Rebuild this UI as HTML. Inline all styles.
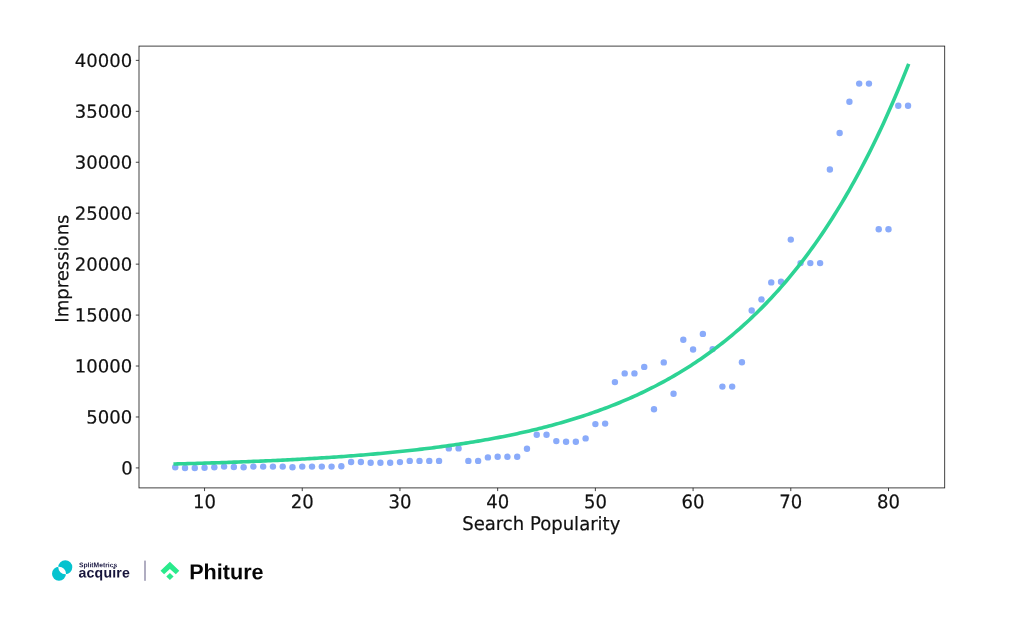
<!DOCTYPE html>
<html lang="en"><head><meta charset="utf-8"><title>Impressions vs Search Popularity</title>
<style>
html,body{margin:0;padding:0;background:#fff;}
body{width:1024px;height:625px;overflow:hidden;position:relative;}
svg{position:absolute;left:0;top:0;display:block;}
.t{font-family:"DejaVu Sans", "Liberation Sans", sans-serif;font-size:18.05px;fill:#111;stroke:#111;stroke-width:0.2px;}
.brand{font-family:"Liberation Sans", sans-serif;font-weight:bold;}
</style></head><body>
<svg width="1024" height="625" viewBox="0 0 1024 625">
<rect width="1024" height="625" fill="#fff"/>
<g fill="#8aabfa">
<circle cx="175.24" cy="467.30" r="3.2"/>
<circle cx="185.01" cy="467.96" r="3.2"/>
<circle cx="194.78" cy="467.96" r="3.2"/>
<circle cx="204.55" cy="467.80" r="3.2"/>
<circle cx="214.32" cy="467.20" r="3.2"/>
<circle cx="224.09" cy="466.60" r="3.2"/>
<circle cx="233.86" cy="467.00" r="3.2"/>
<circle cx="243.63" cy="467.20" r="3.2"/>
<circle cx="253.40" cy="466.60" r="3.2"/>
<circle cx="263.17" cy="466.60" r="3.2"/>
<circle cx="272.94" cy="466.60" r="3.2"/>
<circle cx="282.72" cy="466.60" r="3.2"/>
<circle cx="292.49" cy="467.20" r="3.2"/>
<circle cx="302.26" cy="466.60" r="3.2"/>
<circle cx="312.03" cy="466.60" r="3.2"/>
<circle cx="321.80" cy="466.60" r="3.2"/>
<circle cx="331.57" cy="466.60" r="3.2"/>
<circle cx="341.34" cy="466.25" r="3.2"/>
<circle cx="351.11" cy="462.00" r="3.2"/>
<circle cx="360.88" cy="462.00" r="3.2"/>
<circle cx="370.65" cy="462.70" r="3.2"/>
<circle cx="380.42" cy="462.70" r="3.2"/>
<circle cx="390.19" cy="462.70" r="3.2"/>
<circle cx="399.96" cy="462.10" r="3.2"/>
<circle cx="409.73" cy="460.90" r="3.2"/>
<circle cx="419.51" cy="460.90" r="3.2"/>
<circle cx="429.28" cy="460.90" r="3.2"/>
<circle cx="439.05" cy="460.90" r="3.2"/>
<circle cx="448.82" cy="448.40" r="3.2"/>
<circle cx="458.59" cy="448.40" r="3.2"/>
<circle cx="468.36" cy="460.90" r="3.2"/>
<circle cx="478.13" cy="460.90" r="3.2"/>
<circle cx="487.90" cy="457.40" r="3.2"/>
<circle cx="497.67" cy="456.80" r="3.2"/>
<circle cx="507.44" cy="456.80" r="3.2"/>
<circle cx="517.21" cy="456.80" r="3.2"/>
<circle cx="526.98" cy="448.80" r="3.2"/>
<circle cx="536.75" cy="434.80" r="3.2"/>
<circle cx="546.52" cy="434.80" r="3.2"/>
<circle cx="556.30" cy="441.10" r="3.2"/>
<circle cx="566.07" cy="441.70" r="3.2"/>
<circle cx="575.84" cy="441.70" r="3.2"/>
<circle cx="585.61" cy="438.40" r="3.2"/>
<circle cx="595.38" cy="424.10" r="3.2"/>
<circle cx="605.15" cy="423.60" r="3.2"/>
<circle cx="614.92" cy="382.10" r="3.2"/>
<circle cx="624.69" cy="373.40" r="3.2"/>
<circle cx="634.46" cy="373.40" r="3.2"/>
<circle cx="644.23" cy="366.90" r="3.2"/>
<circle cx="654.00" cy="409.30" r="3.2"/>
<circle cx="663.77" cy="362.40" r="3.2"/>
<circle cx="673.54" cy="393.70" r="3.2"/>
<circle cx="683.31" cy="339.80" r="3.2"/>
<circle cx="693.09" cy="349.50" r="3.2"/>
<circle cx="702.86" cy="333.90" r="3.2"/>
<circle cx="712.63" cy="349.10" r="3.2"/>
<circle cx="722.40" cy="386.60" r="3.2"/>
<circle cx="732.17" cy="386.60" r="3.2"/>
<circle cx="741.94" cy="362.30" r="3.2"/>
<circle cx="751.71" cy="310.50" r="3.2"/>
<circle cx="761.48" cy="299.40" r="3.2"/>
<circle cx="771.25" cy="282.40" r="3.2"/>
<circle cx="781.02" cy="281.80" r="3.2"/>
<circle cx="790.79" cy="239.60" r="3.2"/>
<circle cx="800.56" cy="263.10" r="3.2"/>
<circle cx="810.33" cy="263.10" r="3.2"/>
<circle cx="820.10" cy="263.10" r="3.2"/>
<circle cx="829.87" cy="169.50" r="3.2"/>
<circle cx="839.65" cy="133.00" r="3.2"/>
<circle cx="849.42" cy="101.70" r="3.2"/>
<circle cx="859.19" cy="83.60" r="3.2"/>
<circle cx="868.96" cy="83.60" r="3.2"/>
<circle cx="878.73" cy="229.30" r="3.2"/>
<circle cx="888.50" cy="229.30" r="3.2"/>
<circle cx="898.27" cy="105.80" r="3.2"/>
<circle cx="908.04" cy="105.80" r="3.2"/>
</g>
<polyline points="175.24,463.95 177.68,463.88 180.12,463.82 182.57,463.76 185.01,463.69 187.45,463.63 189.89,463.56 192.34,463.49 194.78,463.43 197.22,463.36 199.66,463.29 202.11,463.21 204.55,463.14 206.99,463.07 209.44,462.99 211.88,462.91 214.32,462.84 216.76,462.76 219.21,462.68 221.65,462.60 224.09,462.51 226.53,462.43 228.98,462.34 231.42,462.26 233.86,462.17 236.30,462.08 238.75,461.99 241.19,461.90 243.63,461.81 246.08,461.71 248.52,461.61 250.96,461.52 253.40,461.42 255.85,461.32 258.29,461.21 260.73,461.11 263.17,461.00 265.62,460.90 268.06,460.79 270.50,460.68 272.94,460.57 275.39,460.45 277.83,460.34 280.27,460.22 282.72,460.10 285.16,459.98 287.60,459.85 290.04,459.73 292.49,459.60 294.93,459.47 297.37,459.34 299.81,459.21 302.26,459.07 304.70,458.94 307.14,458.80 309.59,458.65 312.03,458.51 314.47,458.37 316.91,458.22 319.36,458.07 321.80,457.91 324.24,457.76 326.68,457.60 329.13,457.44 331.57,457.28 334.01,457.11 336.45,456.95 338.90,456.78 341.34,456.60 343.78,456.43 346.23,456.25 348.67,456.07 351.11,455.88 353.55,455.70 356.00,455.51 358.44,455.31 360.88,455.12 363.32,454.92 365.77,454.72 368.21,454.51 370.65,454.31 373.09,454.09 375.54,453.88 377.98,453.66 380.42,453.44 382.87,453.22 385.31,452.99 387.75,452.76 390.19,452.52 392.64,452.28 395.08,452.04 397.52,451.79 399.96,451.54 402.41,451.29 404.85,451.03 407.29,450.77 409.73,450.50 412.18,450.23 414.62,449.96 417.06,449.68 419.51,449.40 421.95,449.11 424.39,448.82 426.83,448.52 429.28,448.22 431.72,447.92 434.16,447.61 436.60,447.29 439.05,446.97 441.49,446.65 443.93,446.32 446.37,445.98 448.82,445.64 451.26,445.29 453.70,444.94 456.15,444.59 458.59,444.23 461.03,443.86 463.47,443.48 465.92,443.11 468.36,442.72 470.80,442.33 473.24,441.93 475.69,441.53 478.13,441.12 480.57,440.70 483.01,440.28 485.46,439.85 487.90,439.42 490.34,438.98 492.79,438.53 495.23,438.07 497.67,437.61 500.11,437.14 502.56,436.66 505.00,436.18 507.44,435.68 509.88,435.18 512.33,434.68 514.77,434.16 517.21,433.64 519.66,433.10 522.10,432.56 524.54,432.02 526.98,431.46 529.43,430.89 531.87,430.32 534.31,429.74 536.75,429.14 539.20,428.54 541.64,427.93 544.08,427.31 546.52,426.68 548.97,426.04 551.41,425.39 553.85,424.73 556.30,424.06 558.74,423.38 561.18,422.69 563.62,421.99 566.07,421.28 568.51,420.55 570.95,419.82 573.39,419.07 575.84,418.31 578.28,417.54 580.72,416.76 583.16,415.97 585.61,415.16 588.05,414.35 590.49,413.51 592.94,412.67 595.38,411.81 597.82,410.94 600.26,410.06 602.71,409.16 605.15,408.25 607.59,407.33 610.03,406.39 612.48,405.43 614.92,404.46 617.36,403.48 619.80,402.48 622.25,401.46 624.69,400.43 627.13,399.38 629.58,398.32 632.02,397.24 634.46,396.15 636.90,395.03 639.35,393.90 641.79,392.75 644.23,391.59 646.67,390.40 649.12,389.20 651.56,387.98 654.00,386.74 656.44,385.48 658.89,384.20 661.33,382.90 663.77,381.58 666.22,380.24 668.66,378.88 671.10,377.50 673.54,376.10 675.99,374.68 678.43,373.23 680.87,371.76 683.31,370.27 685.76,368.75 688.20,367.22 690.64,365.65 693.09,364.07 695.53,362.46 697.97,360.82 700.41,359.16 702.86,357.47 705.30,355.76 707.74,354.02 710.18,352.25 712.63,350.46 715.07,348.64 717.51,346.79 719.95,344.91 722.40,343.00 724.84,341.06 727.28,339.09 729.73,337.09 732.17,335.07 734.61,333.00 737.05,330.91 739.50,328.79 741.94,326.63 744.38,324.44 746.82,322.21 749.27,319.95 751.71,317.66 754.15,315.32 756.59,312.96 759.04,310.55 761.48,308.11 763.92,305.63 766.37,303.12 768.81,300.56 771.25,297.96 773.69,295.33 776.14,292.65 778.58,289.93 781.02,287.17 783.46,284.37 785.91,281.52 788.35,278.63 790.79,275.69 793.23,272.71 795.68,269.68 798.12,266.61 800.56,263.48 803.01,260.31 805.45,257.09 807.89,253.82 810.33,250.50 812.78,247.13 815.22,243.70 817.66,240.22 820.10,236.69 822.55,233.11 824.99,229.46 827.43,225.76 829.87,222.01 832.32,218.19 834.76,214.32 837.20,210.39 839.65,206.39 842.09,202.33 844.53,198.21 846.97,194.03 849.42,189.78 851.86,185.47 854.30,181.09 856.74,176.64 859.19,172.12 861.63,167.53 864.07,162.87 866.51,158.14 868.96,153.33 871.40,148.45 873.84,143.50 876.29,138.46 878.73,133.35 881.17,128.16 883.61,122.89 886.06,117.54 888.50,112.11 890.94,106.59 893.38,100.98 895.83,95.29 898.27,89.51 900.71,83.64 903.16,77.68 905.60,71.63 908.04,65.48" fill="none" stroke="#2dd394" stroke-width="3.6" stroke-linecap="square" stroke-linejoin="round"/>
<rect x="139.0" y="46.1" width="805.70" height="441.80" fill="none" stroke="#222" stroke-width="0.85"/>
<g stroke="#222" stroke-width="0.85">
<line x1="204.55" y1="487.9" x2="204.55" y2="491.09999999999997"/>
<line x1="302.26" y1="487.9" x2="302.26" y2="491.09999999999997"/>
<line x1="399.96" y1="487.9" x2="399.96" y2="491.09999999999997"/>
<line x1="497.67" y1="487.9" x2="497.67" y2="491.09999999999997"/>
<line x1="595.38" y1="487.9" x2="595.38" y2="491.09999999999997"/>
<line x1="693.09" y1="487.9" x2="693.09" y2="491.09999999999997"/>
<line x1="790.79" y1="487.9" x2="790.79" y2="491.09999999999997"/>
<line x1="888.50" y1="487.9" x2="888.50" y2="491.09999999999997"/>
<line x1="135.8" y1="467.92" x2="139.0" y2="467.92"/>
<line x1="135.8" y1="416.98" x2="139.0" y2="416.98"/>
<line x1="135.8" y1="366.03" x2="139.0" y2="366.03"/>
<line x1="135.8" y1="315.09" x2="139.0" y2="315.09"/>
<line x1="135.8" y1="264.15" x2="139.0" y2="264.15"/>
<line x1="135.8" y1="213.21" x2="139.0" y2="213.21"/>
<line x1="135.8" y1="162.26" x2="139.0" y2="162.26"/>
<line x1="135.8" y1="111.32" x2="139.0" y2="111.32"/>
<line x1="135.8" y1="60.38" x2="139.0" y2="60.38"/>
</g>
<g class="t">
<text transform="translate(204.55 508.2) skewY(0.05) scale(1 1.04)" text-anchor="middle">10</text>
<text transform="translate(302.26 508.2) skewY(0.05) scale(1 1.04)" text-anchor="middle">20</text>
<text transform="translate(399.96 508.2) skewY(0.05) scale(1 1.04)" text-anchor="middle">30</text>
<text transform="translate(497.67 508.2) skewY(0.05) scale(1 1.04)" text-anchor="middle">40</text>
<text transform="translate(595.38 508.2) skewY(0.05) scale(1 1.04)" text-anchor="middle">50</text>
<text transform="translate(693.09 508.2) skewY(0.05) scale(1 1.04)" text-anchor="middle">60</text>
<text transform="translate(790.79 508.2) skewY(0.05) scale(1 1.04)" text-anchor="middle">70</text>
<text transform="translate(888.50 508.2) skewY(0.05) scale(1 1.04)" text-anchor="middle">80</text>
<text transform="translate(132.70 474.47) skewY(0.05) scale(1 1.005)" text-anchor="end">0</text>
<text transform="translate(132.20 423.53) skewY(0.05) scale(1 1.005)" text-anchor="end">5000</text>
<text transform="translate(132.20 372.58) skewY(0.05) scale(1 1.005)" text-anchor="end">10000</text>
<text transform="translate(132.20 321.64) skewY(0.05) scale(1 1.005)" text-anchor="end">15000</text>
<text transform="translate(132.20 270.70) skewY(0.05) scale(1 1.005)" text-anchor="end">20000</text>
<text transform="translate(132.20 219.76) skewY(0.05) scale(1 1.005)" text-anchor="end">25000</text>
<text transform="translate(132.20 168.81) skewY(0.05) scale(1 1.005)" text-anchor="end">30000</text>
<text transform="translate(132.20 117.87) skewY(0.05) scale(1 1.005)" text-anchor="end">35000</text>
<text transform="translate(132.20 66.93) skewY(0.05) scale(1 1.005)" text-anchor="end">40000</text>
<text transform="translate(541.3 530.1) skewY(0.05) scale(1 1.04)" text-anchor="middle">Search Popularity</text>
<text transform="translate(68.3 268.6) rotate(-90) skewY(0.05) scale(1 1.0)" text-anchor="middle">Impressions</text>
</g>
<g id="splitmetrics">
<path fill="#05c3cf" fill-rule="evenodd" d="M58.3 567.2a7 7 0 1 0 14 0a7 7 0 1 0 -14 0Z M52 573.7a7 7 0 1 0 14 0a7 7 0 1 0 -14 0Z"/>
<text class="brand" transform="translate(78.9 567.3) skewY(0.05)" font-size="6.75" fill="#1d1b45">SplitMetrics</text>
<text class="brand" transform="translate(78.5 577.5) skewY(0.05)" font-size="14.1" letter-spacing="0.2" fill="#17153b">acquire</text>
</g>
<rect x="144" y="560.6" width="2" height="20.2" fill="#b0adc1"/>
<g id="phiture" fill="#2aea8c">
<path d="M169.9 561.8 L179.3 570.8 L175.8 574.2 L169.9 569 L164.1 574.2 L160.5 570.8 Z"/>
<path d="M169.9 573.1 L173.6 576.6 L169.9 580.1 L166.3 576.6 Z"/>
</g>
<text class="brand" transform="translate(189.2 579.2) skewY(0.05)" font-size="21.6" fill="#050505">Phiture</text>

</svg></body></html>
